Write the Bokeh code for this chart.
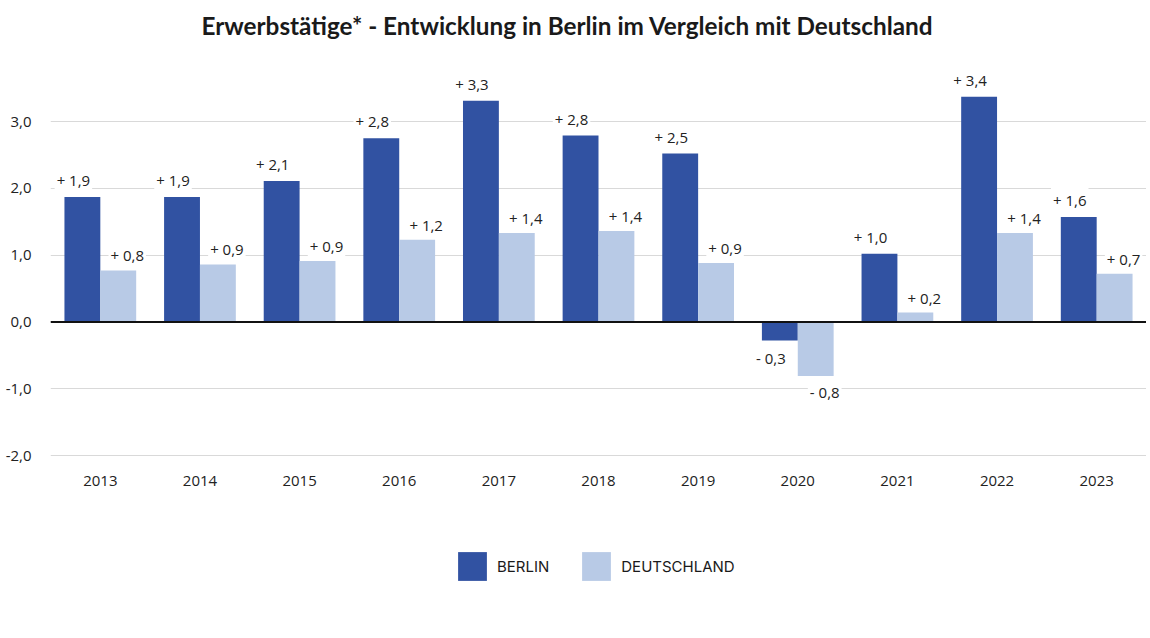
from bokeh.plotting import figure
from bokeh.models import FactorRange, Range1d, ColumnDataSource, FixedTicker, Span, Legend, LegendItem
from bokeh.transform import dodge
from bokeh.core.properties import value
from bokeh.embed import file_html
from bokeh.resources import INLINE

years = ["2013", "2014", "2015", "2016", "2017", "2018", "2019", "2020", "2021", "2022", "2023"]
berlin = [1.87, 1.87, 2.11, 2.75, 3.31, 2.79, 2.52, -0.28, 1.02, 3.37, 1.57]
deutschland = [0.77, 0.86, 0.91, 1.23, 1.33, 1.36, 0.88, -0.81, 0.14, 1.33, 0.72]
berlin_labels = ["+ 1,9", "+ 1,9", "+ 2,1", "+ 2,8", "+ 3,3", "+ 2,8", "+ 2,5", "- 0,3", "+ 1,0", "+ 3,4", "+ 1,6"]
de_labels = ["+ 0,8", "+ 0,9", "+ 0,9", "+ 1,2", "+ 1,4", "+ 1,4", "+ 0,9", "- 0,8", "+ 0,2", "+ 1,4", "+ 0,7"]
y_ticks = [-2, -1, 0, 1, 2, 3]
y_tick_labels = ["-2,0", "-1,0", "0,0", "1,0", "2,0", "3,0"]
series_names = ["BERLIN", "DEUTSCHLAND"]
title_text = "Erwerbstätige* - Entwicklung in Berlin im Vergleich mit Deutschland"

C_BERLIN = "#3152A2"
C_DE = "#B8CAE6"
FONT = "Open Sans"

src = ColumnDataSource(data=dict(
    years=years,
    berlin=berlin,
    deutschland=deutschland,
    berlin_labels=berlin_labels,
    de_labels=de_labels,
    b_off=[-17 if v >= 0 else 17 for v in berlin],
    d_off=[-15 if v >= 0 else 16 for v in deutschland],
))

p = figure(
    x_range=FactorRange(*years, range_padding=0),
    y_range=Range1d(-4.47, 4.063),
    width=1146, height=620,
    min_border_left=50, min_border_right=0, min_border_top=50, min_border_bottom=0,
    output_backend="svg", toolbar_location=None, tools="",
    outline_line_color=None, background_fill_color="white", border_fill_color="white",
)

p.title.text = title_text
p.title.align = "left"
p.title.offset = 151
p.title.vertical_align = "top"
p.title.text_font = "Lato"
p.title.text_font_style = "bold"
p.title.text_font_size = "24.3px"
p.title.text_color = "#1a1a1a"
p.title.standoff = 18

rb = p.vbar(x=dodge("years", -0.18, range=p.x_range), top="berlin", width=0.36,
            source=src, fill_color=C_BERLIN, line_color=None)
rd = p.vbar(x=dodge("years", 0.18, range=p.x_range), top="deutschland", width=0.36,
            source=src, fill_color=C_DE, line_color=None)

p.text(x=dodge("years", -0.18, range=p.x_range), y="berlin", text="berlin_labels",
       x_offset=-9, y_offset="b_off", source=src, text_align="center", text_baseline="middle",
       text_font=value(FONT), text_font_size="15px", text_color="#222222",
       background_fill_color="white", padding=2)
p.text(x=dodge("years", 0.18, range=p.x_range), y="deutschland", text="de_labels",
       x_offset=9, y_offset="d_off", source=src, text_align="center", text_baseline="middle",
       text_font=value(FONT), text_font_size="15px", text_color="#222222",
       background_fill_color="white", padding=2)

# category labels under the -2,0 baseline
p.text(x="years", y=y_ticks[0], text="years", y_offset=25, source=src,
       text_align="center", text_baseline="middle",
       text_font=value(FONT), text_font_size="15px", text_color="#222222")

p.add_layout(Span(location=0, dimension="width", line_color="#111111", line_width=2))

p.xgrid.grid_line_color = None
p.ygrid.grid_line_color = "#d9d9d9"
p.ygrid.grid_line_width = 1
p.ygrid.ticker = FixedTicker(ticks=y_ticks)

p.yaxis.ticker = FixedTicker(ticks=y_ticks)
p.yaxis.major_label_overrides = {t: l for t, l in zip(y_ticks, y_tick_labels)}
p.yaxis.axis_line_color = None
p.yaxis.major_tick_line_color = None
p.yaxis.minor_tick_line_color = None
p.yaxis.major_label_standoff = 13
p.yaxis.major_label_text_font = FONT
p.yaxis.major_label_text_font_size = "15px"
p.yaxis.major_label_text_color = "#222222"

p.xaxis.visible = False

legend = Legend(
    items=[LegendItem(label=series_names[0], renderers=[rb]),
           LegendItem(label=series_names[1], renderers=[rd])],
    orientation="horizontal", location=(404, 36),
    glyph_width=36, glyph_height=36, label_standoff=7, spacing=29,
    label_text_font="Inter", label_text_font_size="15px", label_text_color="#1a1a1a",
    border_line_color=None, background_fill_alpha=0, margin=0, padding=0,
    label_height=36,
)
p.add_layout(legend, "center")

open("out.html", "w").write(file_html(p, INLINE))
